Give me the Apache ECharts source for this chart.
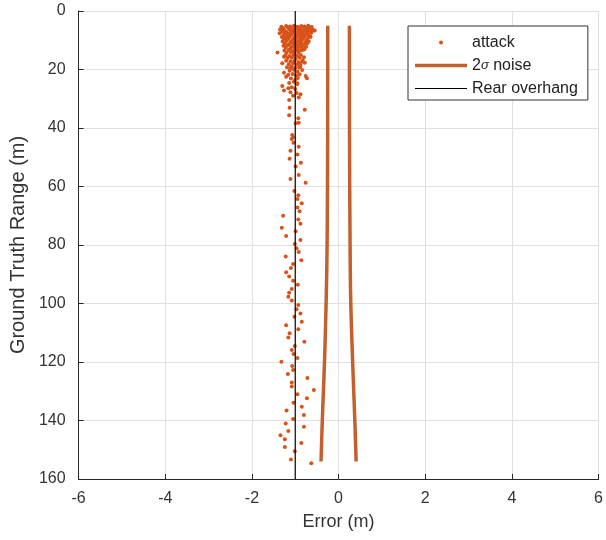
<!DOCTYPE html>
<html>
<head>
<meta charset="utf-8">
<script src="https://cdn.jsdelivr.net/npm/echarts@6/dist/echarts.min.js"></script>
<style>html,body{margin:0;padding:0;background:#fff}#c{width:606px;height:540px}</style>
</head>
<body>
<div id="c"></div>
<script>
// ---- data ----
var xTicks = [-6, -4, -2, 0, 2, 4, 6];
var yTicks = [0, 20, 40, 60, 80, 100, 120, 140, 160];
var rearOverhang = -1;
var noiseRange = [5, 20, 40, 60, 80, 95, 107, 118, 130, 142, 154];
var noiseLeft  = [-0.25, -0.25, -0.252, -0.256, -0.265, -0.28, -0.30, -0.32, -0.35, -0.38, -0.405];
var noiseRight = [0.25, 0.25, 0.252, 0.257, 0.266, 0.275, 0.295, 0.32, 0.35, 0.38, 0.405];
// attack points: [error (m), ground truth range (m)]
var attackPoints = [
 [-1.32,5.4],[-1.21,5.1],[-1.12,5.3],[-1.03,5.0],[-0.95,5.4],[-0.86,5.1],[-0.78,5.3],[-0.70,5.0],[-0.62,5.5],
 [-1.28,5.9],[-1.17,5.6],[-1.08,6.0],[-0.99,5.7],[-0.90,5.9],[-0.81,5.5],[-0.74,5.8],[-0.66,6.0],
 [-1.35,6.3],[-1.25,6.6],[-1.14,6.2],[-1.05,6.5],[-0.97,6.1],[-0.88,6.4],[-0.80,6.6],[-0.71,6.2],[-0.60,6.4],
 [-1.30,7.0],[-1.20,7.2],[-1.10,6.9],[-1.01,7.1],[-0.92,6.8],[-0.84,7.2],[-0.75,6.9],[-0.67,7.0],[-0.55,6.7],
 [-1.36,7.6],[-1.23,7.5],[-1.16,7.8],[-1.07,7.4],[-0.98,7.7],[-0.89,7.5],[-0.80,7.9],[-0.72,7.6],[-0.63,7.4],
 [-1.27,8.2],[-1.18,8.4],[-1.09,8.0],[-1.00,8.3],[-0.93,8.1],[-0.85,8.4],[-0.77,8.2],[-0.68,8.5],
 [-1.31,8.9],[-1.22,9.1],[-1.13,8.8],[-1.04,9.2],[-0.96,8.9],[-0.87,9.0],[-0.79,8.7],[-0.70,9.1],[-0.65,8.8],
 [-1.26,9.7],[-1.16,9.5],[-1.07,9.9],[-0.99,9.6],[-0.90,9.8],[-0.82,9.5],[-0.74,9.9],
 [-1.29,10.4],[-1.20,10.2],[-1.11,10.6],[-1.02,10.3],[-0.94,10.5],[-0.85,10.2],[-0.76,10.6],[-0.69,10.3],
 [-1.24,11.1],[-1.14,11.3],[-1.05,11.0],[-0.97,11.4],[-0.88,11.1],[-0.80,11.3],[-0.72,11.0],
 [-1.27,11.9],[-1.18,11.7],[-1.09,12.1],[-1.00,11.8],[-0.92,12.0],[-0.83,11.7],[-0.75,12.2],
 [-1.22,12.6],[-1.12,12.9],[-1.03,12.5],[-0.95,12.8],[-0.86,12.6],[-0.78,12.9],
 [-1.25,13.5],[-1.15,13.3],[-1.06,13.7],[-0.98,13.4],[-0.89,13.6],[-0.80,13.2],
 [-1.20,14.3],[-1.10,14.1],[-1.02,14.5],[-0.93,14.2],
 [-1.23,15.1],[-1.13,15.4],[-1.04,15.0],[-0.96,15.3],[-0.87,15.0],
 [-1.18,16.1],[-1.08,15.9],[-0.99,16.3],[-0.90,16.0],
 [-1.21,17.0],[-1.11,17.2],[-1.02,16.9],[-0.93,17.4],[-0.83,16.8],
 [-1.15,18.2],[-1.05,17.9],[-0.96,18.4],[-0.88,18.1],
 [-1.19,19.2],[-1.08,19.0],[-1.00,19.5],[-0.91,19.3],
 [-1.13,20.4],[-1.03,20.1],[-0.95,20.7],
 [-1.16,21.8],[-1.06,21.5],[-0.98,22.0],[-0.90,21.6],
 [-1.10,23.1],[-1.00,23.5],[-0.94,22.9],
 [-1.14,24.6],[-1.03,24.2],[-0.96,25.0],
 [-1.08,26.1],[-1.00,26.7],[-1.11,27.8],[-0.97,28.0],[-1.05,29.0],
 [-0.57,6.7],[-0.65,8.8],[-1.41,14.2],[-0.84,13.3],[-0.80,15.8],[-0.84,17.3],[-0.78,17.7],
 [-1.26,15.6],[-1.30,17.9],[-0.88,19.0],[-1.11,19.6],[-0.84,20.2],
 [-1.26,21.1],[-1.21,22.5],[-0.76,22.2],[-0.73,23.0],
 [-1.30,25.6],[-1.16,26.4],[-1.26,27.2],[-0.95,24.7],[-0.88,28.5],[-0.92,29.6],
 [-1.14,30.4],[-1.13,33.1],[-1.14,35.6],[-0.78,33.8],[-0.93,36.7],[-0.99,38.4],
 [-0.92,38.2],[-1.07,42.4],[-1.05,43.2],[-1.08,43.8],[-1.04,45.0],[-0.92,46.4],
 [-1.11,47.8],[-0.95,49.1],[-1.13,50.5],[-0.87,51.9],[-0.99,53.2],[-0.92,56.1],
 [-1.11,57.4],[-0.76,58.7],[-1.02,61.5],[-0.93,63.0],[-0.95,64.3],[-0.85,65.7],
 [-0.95,67.2],[-0.90,68.5],[-1.28,70.0],[-0.93,71.3],[-0.88,72.7],[-1.31,74.1],
 [-0.99,75.3],[-1.21,76.9],[-0.88,78.3],[-1.01,79.7],[-0.97,81.1],[-0.92,82.4],
 [-1.22,83.9],[-0.86,85.2],[-1.05,86.5],[-1.10,87.9],[-1.21,89.3],[-1.14,90.8],
 [-1.05,92.2],[-0.94,93.6],[-1.08,95.0],[-1.14,96.3],[-1.16,97.7],[-1.08,99.0],
 [-0.93,100.5],[-0.97,102.0],[-0.88,103.4],[-1.02,104.5],[-0.85,106.2],[-1.21,107.4],
 [-0.93,108.8],[-1.13,110.2],[-1.16,111.6],[-0.79,113.1],[-1.01,114.5],[-1.08,115.9],
 [-1.04,117.3],[-0.95,118.6],[-1.32,119.9],[-1.07,121.4],[-1.05,122.7],[-1.17,124.1],
 [-0.72,125.5],[-1.08,127.0],[-1.08,128.4],[-0.57,129.6],[-0.95,131.0],[-0.73,132.4],
 [-1.04,133.9],[-0.85,135.3],[-1.20,136.6],[-0.80,138.1],[-1.05,139.5],[-1.22,141.0],
 [-0.80,142.1],[-1.16,143.6],[-1.34,145.0],[-1.24,146.4],[-0.86,147.7],[-1.24,149.1],
 [-1.01,150.5],[-1.10,153.3],[-0.63,154.6]
];
// ---- chart ----
var orange = '#D95319';
var noiseColor = '#c4602c';
var font = 'Liberation Sans, Arial, sans-serif';
function zip(xs, ys) { return xs.map(function (x, i) { return [x, ys[i]]; }); }
var chart = echarts.init(document.getElementById('c'), null, {renderer: 'canvas'});
var axisColor = '#262626';
chart.setOption({
  animation: false,
  backgroundColor: '#fff',
  textStyle: {fontFamily: font},
  grid: {left: 77, right: 5, top: 11, bottom: 61, containLabel: false},
  xAxis: {
    type: 'value', min: xTicks[0], max: xTicks[xTicks.length - 1], interval: xTicks[1] - xTicks[0],
    name: 'Error (m)', nameLocation: 'middle', nameGap: 34,
    nameTextStyle: {fontSize: 18, color: '#333', fontFamily: font},
    axisLine: {onZero: false, lineStyle: {color: axisColor, width: 1}},
    axisTick: {inside: true, length: 5, lineStyle: {color: axisColor}},
    axisLabel: {fontSize: 16, color: '#333', margin: 12, fontFamily: font},
    splitLine: {show: true, lineStyle: {color: '#e0e0e0', width: 1}}
  },
  yAxis: {
    type: 'value', inverse: true, min: yTicks[0], max: yTicks[yTicks.length - 1], interval: yTicks[1] - yTicks[0],
    name: 'Ground Truth Range (m)', nameLocation: 'middle', nameGap: 50,
    nameTextStyle: {fontSize: 20, color: '#333', fontFamily: font},
    axisLine: {onZero: false, lineStyle: {color: axisColor, width: 1}},
    axisTick: {inside: true, length: 5, lineStyle: {color: axisColor}},
    axisLabel: {fontSize: 16, color: '#333', margin: 13, fontFamily: font},
    splitLine: {show: true, lineStyle: {color: '#e0e0e0', width: 1}}
  },
  legend: {
    orient: 'vertical', left: 408, top: 26,
    padding: [5, 10, 0, 7], itemGap: 0, itemWidth: 52, itemHeight: 4,
    borderColor: '#333', borderWidth: 1, backgroundColor: '#fff',
    selectedMode: false,
    textStyle: {fontSize: 16, color: '#222', lineHeight: 23, fontFamily: font,
      rich: {i: {fontStyle: 'italic', fontSize: 13, lineHeight: 23, fontFamily: font, color: '#222'},
             n: {fontSize: 16, lineHeight: 23, fontFamily: font, color: '#222'}}},
    formatter: function (name) {
      if (name === '2σ noise') return '{n|2}{i|σ}{n| noise}';
      return name;
    },
    data: [
      {name: 'attack', icon: 'circle', itemStyle: {color: orange}},
      {name: '2σ noise', icon: 'path://M0,0H52V3.5H0Z', itemStyle: {color: noiseColor}},
      {name: 'Rear overhang', icon: 'path://M0,0H52V1H0Z', itemStyle: {color: '#000'}}
    ]
  },
  series: [
    {
      name: 'attack', type: 'scatter', data: attackPoints, symbol: 'circle', symbolSize: 4,
      itemStyle: {color: orange, opacity: 1}, z: 3
    },
    {
      name: '2σ noise', type: 'line', data: zip(noiseLeft, noiseRange), showSymbol: false, symbol: 'none',
      smooth: 0.3, lineStyle: {color: noiseColor, width: 3.5}, itemStyle: {color: noiseColor}, z: 2
    },
    {
      name: '2σ noise', type: 'line', data: zip(noiseRight, noiseRange), showSymbol: false, symbol: 'none',
      smooth: 0.3, lineStyle: {color: noiseColor, width: 3.5}, itemStyle: {color: noiseColor}, z: 2
    },
    {
      name: 'Rear overhang', type: 'line', data: [[rearOverhang, yTicks[0]], [rearOverhang, yTicks[yTicks.length - 1]]],
      showSymbol: false, symbol: 'none', lineStyle: {color: '#000', width: 1.2}, itemStyle: {color: '#000'}, z: 4
    }
  ]
});
</script>
</body>
</html>
